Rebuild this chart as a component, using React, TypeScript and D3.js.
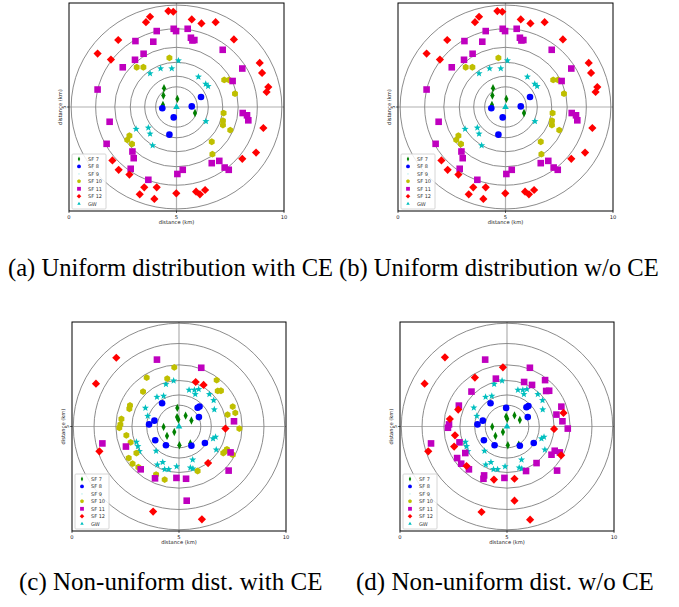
import React, { useEffect, useRef } from 'react';
import * as d3 from 'd3';

// legend / series names
const seriesNames = ['SF 7', 'SF 8', 'SF 9', 'SF 10', 'SF 11', 'SF 12', 'GW'];
const seriesColors = ['#008000', '#0000ff', '#00bfbf', '#bfbf00', '#bf00bf', '#ff0000', '#00bfbf'];
const xTicks = [0, 5, 10];
const yTicks = [5];

const captions = [
  '(a) Uniform distribution with CE',
  '(b) Uniform distribution w/o CE',
  '(c) Non-uniform dist. with CE',
  '(d) Non-uniform dist. w/o CE',
];

// ring radii (km)
const uniformRings = [0.97, 1.48, 2.15, 2.87, 3.76, 4.9];
const nonUniformRings = [1.02, 1.51, 2.2, 2.95, 3.97, 4.94];

const gateway = [[5, 5]];

// uniform distribution (a), (b)
const uniformSf7 = [[4.42, 5.9], [4.39, 5.55], [5.04, 5.39], [5.86, 4.71], [4.37, 5.1]];
const uniformSf8 = [[4.34, 4.94], [4.87, 4.5], [5.71, 5.03], [6.14, 5.48], [4.67, 3.67]];
const uniformSf9 = [
  [5.09, 7.23], [4.26, 6.85], [4.78, 6.85], [3.77, 6.61], [6.02, 6.45], [6.36, 6.11],
  [6.47, 6.0], [6.37, 4.31], [3.12, 3.94], [3.69, 4.0], [3.77, 3.71], [3.89, 3.15],
];
const uniformSf10 = [
  [4.67, 7.36], [3.15, 6.91], [3.46, 6.91], [7.22, 6.3], [7.44, 6.3], [7.72, 5.64],
  [7.19, 4.71], [7.16, 4.34], [7.16, 4.13], [7.5, 3.89], [2.81, 3.62], [2.71, 3.42],
  [2.93, 3.22], [6.64, 3.33], [6.67, 2.73],
];
const uniformSf11 = [
  [4.87, 8.76], [4.98, 8.65], [5.52, 8.76], [4.08, 8.65], [5.67, 8.33], [5.74, 8.2],
  [5.83, 8.22], [3.09, 8.17], [3.92, 8.14], [7.15, 7.75], [3.47, 7.56], [3.07, 7.27],
  [2.5, 6.91], [8.06, 6.85], [7.61, 6.25], [1.33, 5.84], [8.08, 4.71], [8.28, 4.6],
  [8.34, 4.36], [1.89, 4.29], [1.75, 3.23], [2.95, 2.86], [3.01, 2.54], [6.64, 2.3],
  [6.99, 2.41], [7.24, 2.09], [7.43, 1.98], [2.87, 2.03], [5.04, 1.78], [5.29, 1.98],
  [3.69, 1.5],
];
const uniformSf12 = [
  [4.62, 9.61], [4.85, 9.58], [3.77, 9.34], [3.58, 9.08], [5.71, 9.21], [6.16, 9.02],
  [6.82, 9.08], [2.29, 8.22], [7.67, 8.25], [1.33, 7.57], [1.95, 7.28], [8.87, 7.12],
  [8.98, 6.64], [9.27, 5.96], [9.19, 5.72], [9.04, 3.99], [8.7, 2.81], [2.02, 2.43],
  [8.06, 2.51], [2.31, 1.98], [2.81, 1.75], [3.5, 1.14], [3.29, 0.8], [4.08, 1.14],
  [3.97, 0.58], [4.99, 0.85], [5.91, 0.93], [6.09, 0.8], [6.33, 1.01],
];

// non-uniform with CE (c)
const nonUniformCeSf7 = [
  [4.92, 5.89], [4.91, 5.45], [4.97, 5.34], [5.31, 5.52], [5.58, 5.29], [4.28, 4.98],
  [4.78, 4.74], [4.44, 4.55], [5.02, 4.1], [5.53, 4.19],
];
const nonUniformCeSf8 = [
  [4.21, 6.11], [5.87, 5.9], [5.96, 5.96], [5.93, 5.45], [3.85, 5.28], [3.6, 5.1],
  [3.89, 4.34], [4.39, 4.1], [5.58, 4.08], [6.21, 4.21],
];
const nonUniformCeSf9 = [
  [4.75, 7.19], [4.39, 7.02], [3.97, 6.41], [4.28, 6.46], [3.43, 5.89], [3.54, 5.5],
  [5.47, 6.75], [5.72, 6.75], [5.92, 6.78], [5.76, 6.54], [6.42, 6.54], [6.62, 6.25],
  [6.65, 5.81], [6.71, 4.5], [6.59, 4.42], [6.74, 3.89], [3.01, 4.26], [3.08, 4.05],
  [3.15, 3.81], [3.93, 3.83], [3.99, 3.17], [4.24, 3.29], [4.33, 2.95], [4.52, 2.95],
  [4.89, 3.09], [5.53, 3.03], [5.65, 2.98], [5.64, 3.41],
];
const nonUniformCeSf10 = [
  [4.78, 7.83], [3.49, 7.34], [4.45, 7.29], [3.32, 6.67], [6.76, 7.22], [6.81, 6.7],
  [6.96, 6.71], [2.71, 6.01], [2.68, 5.85], [2.31, 5.36], [2.26, 5.1], [2.21, 4.94],
  [7.51, 5.95], [7.63, 5.65], [7.27, 5.57], [7.82, 4.9], [2.54, 4.58], [2.74, 4.24],
  [3.01, 3.73], [2.65, 3.49], [2.83, 3.22], [3.1, 3.05], [7.07, 3.73], [7.16, 3.81],
  [7.24, 3.91], [7.51, 3.65], [5.87, 2.87], [3.93, 2.7], [4.33, 2.46],
];
const nonUniformCeSf11 = [
  [3.97, 8.2], [6.04, 7.81], [7.57, 5.25], [1.42, 4.19], [2.52, 4.04], [7.41, 3.76],
  [3.21, 2.95], [7.32, 2.89], [3.88, 2.52], [4.88, 2.54], [5.33, 2.5], [5.36, 1.45],
];
const nonUniformCeSf12 = [
  [2.07, 8.29], [1.12, 7.05], [5.78, 7.13], [6.15, 6.99], [7.17, 4.9], [1.28, 3.81],
  [6.36, 3.25], [3.79, 0.93], [6.07, 0.56],
];

// non-uniform w/o CE (d)
const nonUniformNoCeSf7 = [
  [4.96, 5.47], [5.01, 5.37], [5.35, 5.53], [5.6, 5.31], [4.31, 4.99], [4.81, 4.74],
  [4.46, 4.55], [5.04, 4.1], [5.55, 4.13],
];
const nonUniformNoCeSf8 = [
  [4.23, 6.11], [4.96, 5.89], [5.91, 5.92], [6.0, 5.98], [5.97, 5.45], [3.87, 5.28],
  [3.62, 5.1], [3.92, 4.34], [4.42, 4.1], [5.6, 4.08], [6.25, 4.21],
];
const nonUniformNoCeSf9 = [
  [4.77, 7.19], [4.4, 7.03], [4.0, 6.41], [4.29, 6.46], [3.45, 5.9], [3.59, 5.5],
  [5.51, 6.75], [5.74, 6.75], [5.93, 6.78], [5.79, 6.54], [6.44, 6.54], [6.66, 6.25],
  [6.67, 5.81], [6.73, 4.5], [6.61, 4.42], [6.77, 3.89], [3.06, 4.26], [3.11, 4.05],
  [3.17, 3.81], [3.95, 3.83], [4.01, 3.17], [4.25, 3.29], [4.37, 2.95], [4.56, 2.95],
  [4.91, 3.09], [5.57, 3.03], [5.69, 2.98], [5.68, 3.41],
];
const nonUniformNoCeSf10: number[][] = [];
const nonUniformNoCeSf11 = [
  [3.98, 8.2], [6.07, 7.81], [4.48, 7.29], [6.78, 7.22], [5.8, 7.13], [6.17, 6.99],
  [3.34, 6.67], [6.83, 6.7], [6.97, 6.71], [2.75, 6.0], [7.54, 5.95], [7.31, 5.57],
  [7.59, 5.25], [7.84, 4.9], [2.29, 5.1], [2.24, 4.94], [1.45, 4.19], [2.78, 4.24],
  [3.05, 3.73], [2.67, 3.49], [2.86, 3.22], [3.22, 2.95], [7.08, 3.65], [7.23, 3.84],
  [7.47, 3.76], [7.34, 2.89], [6.38, 3.25], [5.89, 2.87], [3.93, 2.66], [3.9, 2.5],
  [4.88, 2.54],
];
const nonUniformNoCeSf12 = [
  [2.1, 8.31], [1.15, 7.05], [4.81, 7.83], [3.5, 7.34], [2.72, 5.81], [2.33, 5.36],
  [7.2, 4.88], [7.64, 5.65], [2.57, 4.58], [2.53, 4.04], [1.32, 3.81], [7.53, 3.62],
  [3.11, 3.11], [4.39, 2.46], [5.35, 2.5], [5.35, 1.45], [3.81, 0.91], [6.08, 0.54],
];

// custom marker shapes, size = radius in px
const thinDiamond = { draw(c, r) { c.moveTo(0, -r); c.lineTo(r * 0.5, 0); c.lineTo(0, r); c.lineTo(-r * 0.5, 0); c.closePath(); } };
const circle = { draw(c, r) { c.moveTo(r, 0); c.arc(0, 0, r, 0, 2 * Math.PI); } };
const star = {
  draw(c, r) {
    for (let i = 0; i < 10; i++) {
      const rr = i % 2 === 0 ? r : r * 0.42;
      const a = -Math.PI / 2 + (i * Math.PI) / 5;
      if (i === 0) c.moveTo(rr * Math.cos(a), rr * Math.sin(a));
      else c.lineTo(rr * Math.cos(a), rr * Math.sin(a));
    }
    c.closePath();
  },
};
const hexagon = {
  draw(c, r) {
    for (let i = 0; i < 6; i++) {
      const a = -Math.PI / 2 + (i * Math.PI) / 3;
      if (i === 0) c.moveTo(r * Math.cos(a), r * Math.sin(a));
      else c.lineTo(r * Math.cos(a), r * Math.sin(a));
    }
    c.closePath();
  },
};
const square = { draw(c, r) { c.rect(-r, -r, 2 * r, 2 * r); } };
const diamond = { draw(c, r) { c.moveTo(0, -r); c.lineTo(r, 0); c.lineTo(0, r); c.lineTo(-r, 0); c.closePath(); } };
const triangle = { draw(c, r) { c.moveTo(0, -r); c.lineTo(r * 0.87, r * 0.5); c.lineTo(-r * 0.87, r * 0.5); c.closePath(); } };

const shapes = [thinDiamond, circle, star, hexagon, square, diamond, triangle];
const plotSizes = [4.2, 3.3, 3.7, 3.4, 3.3, 4.1, 3.8];
const legendSizes = [2.4, 1.9, 0.6, 2.0, 1.9, 2.3, 2.0];

const panels = [
  { box: [69, 284, 3, 211], rings: uniformRings, caption: captions[0], capX: 8, capY: 276, capSize: 24.6,
    series: [uniformSf7, uniformSf8, uniformSf9, uniformSf10, uniformSf11, uniformSf12, gateway] },
  { box: [398, 613, 3, 211], rings: uniformRings, caption: captions[1], capX: 339, capY: 276, capSize: 24.6,
    series: [uniformSf7, uniformSf8, uniformSf9, uniformSf10, uniformSf11, uniformSf12, gateway] },
  { box: [72, 286, 322, 531], rings: nonUniformRings, caption: captions[2], capX: 19, capY: 590, capSize: 25,
    series: [nonUniformCeSf7, nonUniformCeSf8, nonUniformCeSf9, nonUniformCeSf10, nonUniformCeSf11, nonUniformCeSf12, gateway] },
  { box: [400, 614, 322, 531], rings: nonUniformRings, caption: captions[3], capX: 356, capY: 590, capSize: 25,
    series: [nonUniformNoCeSf7, nonUniformNoCeSf8, nonUniformNoCeSf9, nonUniformNoCeSf10, nonUniformNoCeSf11, nonUniformNoCeSf12, gateway] },
];

function App() {
  const ref = useRef<SVGSVGElement>(null);

  useEffect(() => {
    const svg = d3.select(ref.current);
    svg.selectAll('*').remove();
    const font = "'DejaVu Sans', sans-serif";
    const serif = "'Liberation Serif', 'DejaVu Serif', serif";

    panels.forEach((p, pi) => {
      const [left, right, top, bottom] = p.box;
      const x = d3.scaleLinear().domain([0, 10]).range([left, right]);
      const y = d3.scaleLinear().domain([0, 10]).range([bottom, top]);
      const g = svg.append('g');

      const clipId = 'clip' + pi;
      g.append('clipPath').attr('id', clipId)
        .append('rect').attr('x', left).attr('y', top).attr('width', right - left).attr('height', bottom - top);

      const inner = g.append('g').attr('clip-path', `url(#${clipId})`);

      // cross lines at 5 km
      inner.append('line').attr('x1', x(5)).attr('x2', x(5)).attr('y1', top).attr('y2', bottom)
        .attr('stroke', '#b0b0b0').attr('stroke-width', 1.2);
      inner.append('line').attr('x1', left).attr('x2', right).attr('y1', y(5)).attr('y2', y(5))
        .attr('stroke', '#b0b0b0').attr('stroke-width', 1.2);

      // rings
      inner.selectAll('.ring').data(p.rings).enter().append('ellipse')
        .attr('cx', x(5)).attr('cy', y(5))
        .attr('rx', d => x(5 + d) - x(5))
        .attr('ry', d => y(5) - y(5 + d))
        .attr('fill', 'none').attr('stroke', '#7f7f7f').attr('stroke-width', 0.9);

      // points
      p.series.forEach((pts, si) => {
        const sym = d3.symbol().type(shapes[si] as any).size(plotSizes[si]);
        inner.append('g').selectAll('path').data(pts).enter().append('path')
          .attr('d', sym as any)
          .attr('transform', d => `translate(${x(d[0])},${y(d[1])})`)
          .attr('fill', seriesColors[si]);
      });

      // legend
      const lx = left + 3, lh = 55, lw = 34;
      const ly = bottom - 2 - lh;
      const leg = g.append('g');
      leg.append('rect').attr('x', lx).attr('y', ly).attr('width', lw).attr('height', lh)
        .attr('rx', 1).attr('fill', 'white').attr('fill-opacity', 0.85)
        .attr('stroke', '#cccccc').attr('stroke-width', 0.8);
      seriesNames.forEach((name, si) => {
        const yy = ly + 5 + si * 7.45;
        const sym = d3.symbol().type(shapes[si] as any).size(legendSizes[si]);
        leg.append('path').attr('d', sym as any)
          .attr('transform', `translate(${lx + 7},${yy})`).attr('fill', seriesColors[si]);
        leg.append('text').attr('x', lx + 16).attr('y', yy + 1.8)
          .attr('font-size', 5).attr('font-family', font).attr('fill', '#333')
          .text(name);
      });

      // frame
      g.append('rect').attr('x', left).attr('y', top).attr('width', right - left).attr('height', bottom - top)
        .attr('fill', 'none').attr('stroke', 'black').attr('stroke-width', 1);

      // x ticks
      xTicks.forEach(t => {
        g.append('line').attr('x1', x(t)).attr('x2', x(t)).attr('y1', bottom).attr('y2', bottom + 2)
          .attr('stroke', 'black').attr('stroke-width', 0.6);
        g.append('text').attr('x', x(t)).attr('y', bottom + 7.5).attr('text-anchor', 'middle')
          .attr('font-size', 5.2).attr('font-family', font).attr('fill', '#222').text(t);
      });
      g.append('text').attr('x', x(5)).attr('y', bottom + 13).attr('text-anchor', 'middle')
        .attr('font-size', 5.2).attr('font-family', font).attr('fill', '#222').text('distance (km)');

      // y ticks
      yTicks.forEach(t => {
        g.append('line').attr('x1', left - 2).attr('x2', left).attr('y1', y(t)).attr('y2', y(t))
          .attr('stroke', 'black').attr('stroke-width', 0.6);
        g.append('text').attr('transform', `translate(${left - 3},${y(t)}) rotate(-90)`)
          .attr('text-anchor', 'middle').attr('font-size', 5.2).attr('font-family', font)
          .attr('fill', '#222').text(t);
      });
      g.append('text').attr('transform', `translate(${left - 7},${y(5)}) rotate(-90)`)
        .attr('text-anchor', 'middle').attr('font-size', 5.2).attr('font-family', font)
        .attr('fill', '#222').text('distance (km)');

      // caption
      svg.append('text').attr('x', p.capX).attr('y', p.capY)
        .attr('font-size', p.capSize).attr('font-family', serif)
        .attr('fill', 'black').text(p.caption);
    });
  }, []);

  return (
    <div style={{ position: 'absolute', left: 0, top: 0 }}>
      <svg ref={ref} width={679} height={607} style={{ display: 'block', background: 'white' }} />
    </div>
  );
}

export default App;
